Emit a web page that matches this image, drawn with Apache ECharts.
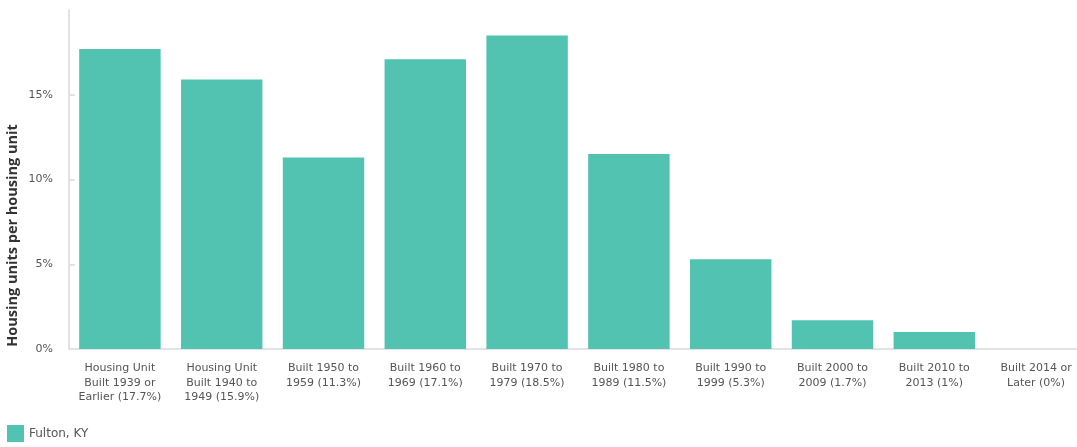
<!DOCTYPE html>
<html>
<head>
<meta charset="utf-8">
<script src="https://cdn.jsdelivr.net/npm/echarts@6/dist/echarts.min.js"></script>
<style>
html,body{margin:0;padding:0;background:#fff;}
#chart{width:1077px;height:447px;}
</style>
</head>
<body>
<div id="chart"></div>
<script>
const categories = [
  "Housing Unit\nBuilt 1939 or\nEarlier (17.7%)",
  "Housing Unit\nBuilt 1940 to\n1949 (15.9%)",
  "Built 1950 to\n1959 (11.3%)",
  "Built 1960 to\n1969 (17.1%)",
  "Built 1970 to\n1979 (18.5%)",
  "Built 1980 to\n1989 (11.5%)",
  "Built 1990 to\n1999 (5.3%)",
  "Built 2000 to\n2009 (1.7%)",
  "Built 2010 to\n2013 (1%)",
  "Built 2014 or\nLater (0%)"
];
const seriesName = "Fulton, KY";
const values = [17.7, 15.9, 11.3, 17.1, 18.5, 11.5, 5.3, 1.7, 1.0, 0];
const yTicks = [0, 5, 10, 15, 20];

const chart = echarts.init(document.getElementById('chart'), null, {renderer: 'canvas'});
const font = '"DejaVu Sans"';
chart.setOption({
  animation: false,
  textStyle: {fontFamily: font},
  legend: {
    left: 7, top: 425, padding: 0,
    itemWidth: 17, itemHeight: 17, itemGap: 10,
    icon: 'rect',
    textStyle: {color: '#555', fontSize: 12, fontFamily: font},
    data: [seriesName]
  },
  grid: {left: 69, right: -10, top: 10, bottom: 98, containLabel: false, outerBoundsMode: 'none'},
  xAxis: {
    type: 'category',
    data: categories,
    axisLine: {lineStyle: {color: '#e3e3e3', width: 2}},
    axisTick: {show: false},
    axisLabel: {color: '#555', fontSize: 11, lineHeight: 14.5, interval: 0, margin: 12, fontFamily: font}
  },
  yAxis: {
    type: 'value',
    min: yTicks[0], max: yTicks[yTicks.length - 1], interval: 5,
    name: 'Housing units per housing unit',
    nameLocation: 'middle',
    nameGap: 49,
    nameMoveOverlap: false,
    nameTextStyle: {color: '#333', fontSize: 14.5, fontWeight: 'bold', fontFamily: '"Open Sans"', padding: [0, 112, 0, 0]},
    axisLine: {show: true, lineStyle: {color: '#e3e3e3', width: 2}},
    axisTick: {show: true, inside: true, length: 6, lineStyle: {color: '#e3e3e3', width: 2}},
    splitLine: {show: false},
    axisLabel: {
      color: '#555', fontSize: 11, margin: 16, fontFamily: font, showMaxLabel: false,
      formatter: v => v + '%'
    }
  },
  series: [{
    name: seriesName,
    type: 'bar',
    data: values,
    barCategoryGap: '20%',
    itemStyle: {color: '#51C3B0'}
  }]
});
</script>
</body>
</html>
